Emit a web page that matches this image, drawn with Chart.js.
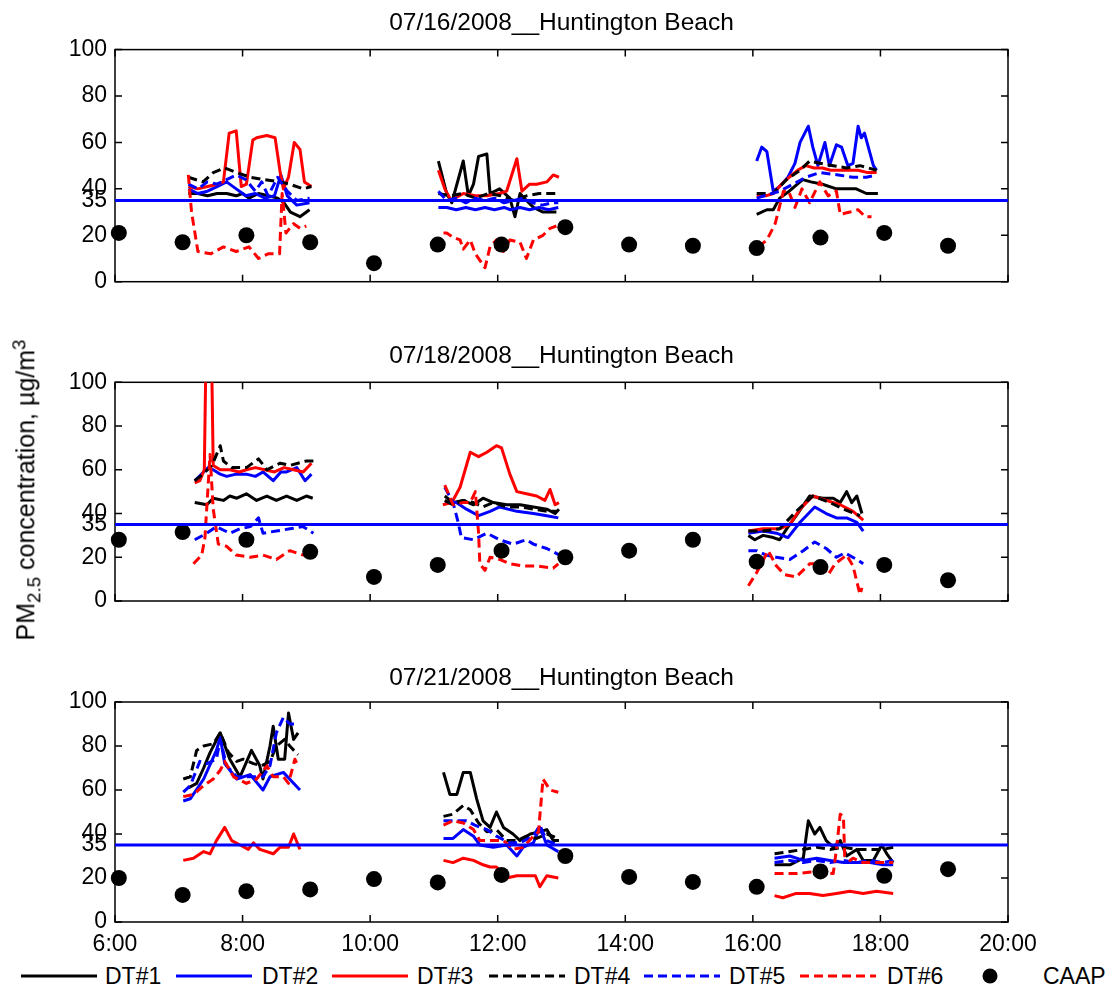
<!DOCTYPE html>
<html lang="en">
<head>
<meta charset="UTF-8">
<title>PM2.5 concentration - Huntington Beach</title>
<script src="https://cdn.jsdelivr.net/npm/chart.js"></script>
<style>
  body { margin: 0; background: #fff; }
  #wrap { position: relative; width: 1112px; height: 994px; font-family: "Liberation Sans", Arial, sans-serif; color: #000; overflow: hidden; }
  #wrap canvas { position: absolute; left: 0; }
  #ylabel { position: absolute; left: 27px; top: 490px; transform: translate(-50%, -50%) rotate(-90deg); white-space: nowrap; font-size: 25px; }
  #ylabel sub, #ylabel sup { font-size: 0.75em; }
  .leg { position: absolute; font-size: 23px; line-height: 28px; white-space: nowrap; }
  .legline { position: absolute; }
</style>
</head>
<body>
<div id="wrap">
  <canvas id="c1" width="1112" height="312"></canvas>
  <canvas id="c2" width="1112" height="299"></canvas>
  <canvas id="c3" width="1112" height="308"></canvas>
  <div id="ylabel">PM<sub>2.5</sub> concentration, &micro;g/m<sup>3</sup></div>
  <div id="legend"></div>
</div>
<script>
// axis ticks (hours of day and concentration)
const xTicks = [6, 8, 10, 12, 14, 16, 18, 20];
const yTicks = [0, 20, 35, 40, 60, 80, 100];
const standardLevel = 35;

const seriesNames = ['DT#1', 'DT#2', 'DT#3', 'DT#4', 'DT#5', 'DT#6'];
const caapName = 'CAAP';
const caapHours = [6.06, 7.06, 8.06, 9.06, 10.06, 11.06, 12.06, 13.06, 14.06, 15.06, 16.06, 17.06, 18.06, 19.06];

// 07/16/2008 -- [hour, ug/m3], [x, null] separates the three sampling periods
const jul16_dt1 = [[7.15,38],[7.3,38],[7.45,37],[7.6,38],[7.75,38],[7.9,37],[8.0,38],[8.1,36],[8.25,38],[8.4,37],[8.55,36],[8.65,34],[8.75,30],[8.9,28],[9.05,31],
  [10,null],[11.07,52],[11.2,38],[11.28,34],[11.46,52],[11.54,37],[11.62,42],[11.7,54],[11.83,55],[11.88,38],[12.03,40],[12.19,36],[12.27,28],[12.35,38],[12.45,35],[12.56,32],[12.71,30],[12.92,30],
  [14.5,null],[16.06,29],[16.22,31],[16.32,31],[16.42,36],[16.57,39],[16.78,44],[16.91,43],[17.09,42],[17.31,40],[17.47,40],[17.62,40],[17.78,38],[17.96,38]];
const jul16_dt2 = [[7.15,40],[7.3,38],[7.45,39],[7.6,41],[7.75,43],[7.9,40],[8.05,37],[8.2,38],[8.35,36],[8.5,37],[8.6,46],[8.7,37],[8.85,33],[9.05,34],
  [10,null],[11.07,32],[11.2,32],[11.35,31],[11.5,32],[11.65,31],[11.8,32],[11.95,31],[12.1,32],[12.2,31],[12.35,32],[12.5,31],[12.65,32],[12.8,31],[12.95,32],
  [14.5,null],[16.06,52],[16.14,58],[16.22,56],[16.32,39],[16.42,41],[16.55,45],[16.66,51],[16.74,60],[16.87,67],[16.94,58],[17.02,50],[17.13,60],[17.2,50],[17.31,59],[17.39,58],[17.49,50],[17.57,51],[17.65,67],[17.7,62],[17.75,64],[17.89,50],[17.94,48]];
const jul16_dt3 = [[7.15,41],[7.3,40],[7.45,41],[7.6,42],[7.7,43],[7.79,64],[7.9,65],[7.98,41],[8.06,42],[8.16,61],[8.22,62],[8.38,63],[8.51,62],[8.59,47],[8.64,40],[8.72,45],[8.81,60],[8.9,57],[8.97,43],[9.08,41],
  [10,null],[11.07,48],[11.17,40],[11.27,35],[11.46,38],[11.65,37],[11.83,37],[12.03,38],[12.14,39],[12.3,53],[12.38,39],[12.5,42],[12.61,42],[12.77,43],[12.87,46],[12.96,45],
  [14.5,null],[16.06,37],[16.2,37],[16.32,38],[16.45,42],[16.57,45],[16.7,48],[16.83,50],[16.96,49],[17.09,49],[17.22,48],[17.34,48],[17.5,48],[17.65,48],[17.8,47],[17.94,47]];
const jul16_dt4 = [[7.15,45],[7.38,43],[7.54,47],[7.72,49],[7.91,47],[8.12,45],[8.33,44],[8.59,43],[8.74,42],[8.95,40],[9.08,41],
  [10,null],[11.07,38],[11.25,37],[11.45,38],[11.65,36],[11.85,38],[12.05,37],[12.25,35],[12.45,37],[12.65,38],[12.95,38],
  [14.5,null],[16.06,38],[16.32,38],[16.53,44],[16.74,48],[16.89,52],[17.05,51],[17.26,50],[17.47,49],[17.68,50],[17.94,48]];
const jul16_dt5 = [[7.15,42],[7.3,40],[7.45,43],[7.6,42],[7.75,44],[7.9,46],[8.05,44],[8.2,39],[8.3,43],[8.4,37],[8.55,45],[8.7,39],[8.85,35],[9.05,36],
  [10,null],[11.07,39],[11.2,35],[11.35,36],[11.5,34],[11.65,36],[11.8,35],[11.95,36],[12.1,34],[12.25,35],[12.4,36],[12.55,34],[12.7,33],[12.85,34],[12.95,34],
  [14.5,null],[16.06,36],[16.42,39],[16.63,42],[16.83,45],[17.05,47],[17.34,46],[17.57,45],[17.78,45],[17.94,46]];
const jul16_dt6 = [[7.15,46],[7.2,30],[7.3,13],[7.5,12],[7.7,15],[7.9,13],[8.1,15],[8.25,10],[8.4,12],[8.58,12],[8.62,38],[8.68,21],[8.8,25],[8.9,23],[9.0,24],
  [10,null],[11.15,21],[11.2,21],[11.31,19],[11.41,18],[11.46,14],[11.57,18],[11.65,12],[11.8,6],[11.88,15],[11.98,18],[12.09,13],[12.19,18],[12.35,17],[12.45,10],[12.56,18],[12.71,20],[12.82,23],[12.92,24],
  [14.5,null],[16.09,15],[16.22,18],[16.35,25],[16.48,39],[16.56,39],[16.66,32],[16.77,40],[16.89,34],[17.05,43],[17.18,37],[17.31,39],[17.37,29],[17.52,30],[17.65,31],[17.76,28],[17.86,28]];
const jul16_caap = [21, 17, 20, 17, 8, 16, 16, 23.5, 16, 15.5, 14.5, 19, 21, 15.5];

// 07/18/2008
const jul18_dt1 = [[7.25,45],[7.44,44],[7.54,47],[7.7,46],[7.8,48],[7.91,47],[8.06,49],[8.22,46],[8.38,48],[8.53,46],[8.69,48],[8.85,46],[9.0,48],[9.1,47],
  [10,null],[11.17,48],[11.3,45],[11.46,46],[11.62,44],[11.77,47],[11.93,45],[12.14,44],[12.35,44],[12.56,43],[12.77,42],[12.9,40],[12.96,42],
  [14.5,null],[15.93,30],[16.03,28],[16.16,30],[16.32,29],[16.42,28],[16.53,33],[16.68,39],[16.89,48],[17.1,47],[17.26,47],[17.37,45],[17.47,50],[17.55,45],[17.63,48],[17.71,40]];
const jul18_dt2 = [[7.25,55],[7.46,61],[7.54,60],[7.65,58],[7.75,57],[7.9,58],[8.06,58],[8.2,57],[8.32,59],[8.48,55],[8.6,59],[8.69,59],[8.85,61],[8.98,55],[9.08,58],
  [10,null],[11.17,45],[11.35,45],[11.51,42],[11.7,39],[11.88,41],[12.03,43],[12.3,41],[12.56,40],[12.77,39],[12.95,38],
  [14.5,null],[15.93,31],[16.16,32],[16.37,31],[16.55,29],[16.74,36],[16.97,43],[17.15,40],[17.31,38],[17.47,38],[17.63,36],[17.73,32]];
const jul18_dt3 = [[7.25,54],[7.33,55],[7.4,60],[7.44,140],[7.5,140],[7.54,62],[7.65,60],[7.8,60],[7.95,59],[8.06,60],[8.2,61],[8.35,60],[8.5,59],[8.65,61],[8.8,60],[8.95,59],[9.08,63],
  [10,null],[11.14,44],[11.28,45],[11.41,52],[11.57,68],[11.7,66],[11.83,68],[11.98,71],[12.06,70],[12.19,58],[12.3,50],[12.45,49],[12.61,48],[12.74,46],[12.82,51],[12.9,44],[12.96,45],
  [14.5,null],[15.93,32],[16.16,33],[16.42,33],[16.58,35],[16.74,42],[16.94,48],[17.15,46],[17.37,44],[17.57,41],[17.73,37]];
const jul18_dt4 = [[7.25,55],[7.38,58],[7.52,62],[7.65,71],[7.7,64],[7.83,61],[8.06,61],[8.25,65],[8.38,60],[8.59,63],[8.74,62],[9.0,64],[9.11,64],
  [10,null],[11.17,46],[11.3,44],[11.46,46],[11.62,45],[11.77,43],[11.93,45],[12.14,43],[12.35,43],[12.56,42],[12.77,41],[12.92,41],
  [14.5,null],[15.93,32],[16.16,32],[16.42,33],[16.68,41],[16.94,48],[17.21,45],[17.42,42],[17.68,39]];
const jul18_dt5 = [[7.25,28],[7.44,31],[7.59,34],[7.8,31],[7.96,33],[8.12,34],[8.25,38],[8.32,31],[8.53,32],[8.74,33],[8.95,34],[9.11,31],
  [10,null],[11.17,52],[11.3,45],[11.38,36],[11.43,29],[11.62,28],[11.83,31],[12.03,28],[12.24,26],[12.45,28],[12.56,26],[12.77,24],[12.97,21],
  [14.5,null],[15.93,23],[16.06,23],[16.21,21],[16.37,20],[16.58,19],[16.79,23],[16.97,27],[17.15,24],[17.31,20],[17.44,22],[17.63,19],[17.73,17]];
const jul18_dt6 = [[7.23,17],[7.36,21],[7.41,29],[7.49,67],[7.54,42],[7.62,26],[7.75,25],[7.9,21],[8.12,20],[8.32,21],[8.53,19],[8.74,23],[8.95,21],[9.08,22],
  [10,null],[11.17,53],[11.3,44],[11.46,45],[11.57,45],[11.65,50],[11.7,31],[11.72,17],[11.8,14],[11.88,20],[12.03,19],[12.19,17],[12.4,16],[12.61,16],[12.87,15],[12.95,17],
  [14.5,null],[15.93,7],[16.06,13],[16.24,23],[16.37,16],[16.5,12],[16.68,11],[16.89,17],[17.05,17],[17.18,12],[17.29,17],[17.47,21],[17.57,16],[17.68,3],[17.71,6]];
const jul18_caap = [28, 31.5, 28, 22.5, 11, 16.5, 23, 20, 23, 28, 18, 15.5, 16.5, 9.5];

// 07/21/2008
const jul21_dt1 = [[7.15,61],[7.28,63],[7.39,70],[7.49,77],[7.65,86],[7.8,74],[7.96,66],[8.14,78],[8.27,71],[8.32,65],[8.43,80],[8.48,89],[8.56,74],[8.66,74],[8.72,95],[8.8,83],[8.87,86],
  [10,null],[11.15,68],[11.25,58],[11.36,58],[11.46,68],[11.57,68],[11.67,56],[11.77,46],[11.88,43],[11.98,50],[12.09,43],[12.24,40],[12.35,37],[12.51,40],[12.66,41],[12.77,42],[12.87,37],[12.96,37],
  [14.5,null],[16.34,26],[16.58,26],[16.79,29],[16.87,46],[16.97,40],[17.05,43],[17.15,37],[17.26,34],[17.37,37],[17.47,30],[17.63,33],[17.73,28],[17.89,28],[18.02,35],[18.1,31],[18.2,27]];
const jul21_dt2 = [[7.07,55],[7.18,56],[7.39,65],[7.59,78],[7.65,84],[7.72,72],[7.91,65],[8.12,67],[8.32,60],[8.43,66],[8.64,68],[8.77,64],[8.9,60],
  [10,null],[11.15,38],[11.3,38],[11.46,42],[11.62,39],[11.72,35],[11.93,34],[12.14,35],[12.3,30],[12.4,34],[12.56,36],[12.66,43],[12.77,35],[12.95,32],
  [14.5,null],[16.34,29],[16.58,30],[16.79,28],[17.0,29],[17.21,28],[17.42,27],[17.63,27],[17.84,27],[18.04,26],[18.2,26]];
const jul21_dt3 = [[7.07,28],[7.23,29],[7.39,32],[7.49,31],[7.59,37],[7.72,43],[7.83,37],[7.96,35],[8.09,33],[8.17,36],[8.27,33],[8.48,31],[8.59,34],[8.72,34],[8.8,40],[8.9,33],
  [10,null],[11.15,28],[11.3,27],[11.46,29],[11.62,28],[11.77,26],[11.88,25],[11.98,25],[12.14,20],[12.3,21],[12.45,21],[12.59,21],[12.66,16],[12.77,21],[12.95,20],
  [14.5,null],[16.34,12],[16.47,11],[16.68,13],[16.89,13],[17.1,12],[17.31,13],[17.52,14],[17.73,13],[17.94,14],[18.2,13]];
const jul21_dt4 = [[7.07,65],[7.18,66],[7.28,78],[7.39,80],[7.54,81],[7.65,86],[7.78,77],[7.91,73],[8.01,74],[8.17,72],[8.3,71],[8.43,73],[8.53,80],[8.66,83],[8.74,80],[8.87,76],
  [10,null],[11.15,48],[11.3,49],[11.46,53],[11.57,51],[11.7,45],[11.83,41],[11.98,42],[12.14,37],[12.3,37],[12.45,39],[12.61,38],[12.77,40],[12.95,38],
  [14.5,null],[16.34,31],[16.58,32],[16.79,33],[17.0,34],[17.21,33],[17.42,34],[17.63,33],[17.84,33],[18.04,33],[18.2,34]];
const jul21_dt5 = [[7.07,59],[7.18,62],[7.33,73],[7.44,72],[7.59,74],[7.65,83],[7.75,71],[7.91,66],[8.12,66],[8.32,66],[8.43,71],[8.53,86],[8.64,93],[8.74,90],[8.87,90],
  [10,null],[11.15,46],[11.36,46],[11.51,46],[11.64,44],[11.83,42],[11.98,39],[12.19,36],[12.35,36],[12.56,39],[12.66,44],[12.77,37],[12.95,35],
  [14.5,null],[16.34,27],[16.58,28],[16.79,27],[17.0,28],[17.21,27],[17.42,28],[17.63,27],[17.84,28],[18.04,27],[18.2,28]];
const jul21_dt6 = [[7.07,57],[7.23,58],[7.39,62],[7.54,65],[7.65,69],[7.72,73],[7.86,66],[8.06,63],[8.22,65],[8.38,71],[8.48,66],[8.64,66],[8.72,63],[8.82,74],[8.87,71],
  [10,null],[11.15,44],[11.3,46],[11.46,45],[11.62,42],[11.72,37],[11.88,37],[12.09,37],[12.24,33],[12.4,34],[12.56,39],[12.64,41],[12.71,65],[12.82,60],[12.95,59],
  [14.5,null],[16.34,22],[16.68,22],[17.0,23],[17.26,22],[17.31,33],[17.37,49],[17.42,48],[17.44,30],[17.52,28],[17.57,29],[17.73,27],[17.94,27],[18.2,27]];
const jul21_caap = [20, 12.3, 14, 14.8, 19.5, 18, 21.4, 30, 20.5, 18.2, 16, 23, 21, 24];

const days = [
  { title: '07/16/2008__Huntington Beach', series: [jul16_dt1, jul16_dt2, jul16_dt3, jul16_dt4, jul16_dt5, jul16_dt6], caap: jul16_caap },
  { title: '07/18/2008__Huntington Beach', series: [jul18_dt1, jul18_dt2, jul18_dt3, jul18_dt4, jul18_dt5, jul18_dt6], caap: jul18_caap },
  { title: '07/21/2008__Huntington Beach', series: [jul21_dt1, jul21_dt2, jul21_dt3, jul21_dt4, jul21_dt5, jul21_dt6], caap: jul21_caap }
];

// line styles for DT#1..DT#6
const seriesColors = ['#000000', '#0000ff', '#ff0000', '#000000', '#0000ff', '#ff0000'];
const seriesDashed = [false, false, false, true, true, true];
const dashPattern = [9, 5];
const fontFamily = '"Liberation Sans", Arial, sans-serif';

// canvas placement of each panel
const panelLayout = [
  { id: 'c1', top: 0,   titleTop: 8.1, titleBottom: 12.1, xAxisH: 30.3, showX: false },
  { id: 'c2', top: 332, titleTop: 9.1, titleBottom: 11.8, xAxisH: 30,   showX: false },
  { id: 'c3', top: 654, titleTop: 9.1, titleBottom: 9.5,  xAxisH: 40,   showX: true }
];

const toPoints = arr => arr.map(([x, y]) => ({ x, y }));

// box with inward tick marks on all four sides, drawn under the data
const framePlugin = {
  id: 'frame',
  beforeDatasetsDraw(chart) {
    const { ctx, chartArea: a, scales: { x, y } } = chart;
    ctx.save();
    ctx.strokeStyle = '#000';
    ctx.lineWidth = 1.5;
    ctx.beginPath();
    xTicks.forEach(v => {
      const px = x.getPixelForValue(v);
      ctx.moveTo(px, a.bottom); ctx.lineTo(px, a.bottom - 7);
      ctx.moveTo(px, a.top); ctx.lineTo(px, a.top + 7);
    });
    yTicks.forEach(v => {
      const py = y.getPixelForValue(v);
      ctx.moveTo(a.left, py); ctx.lineTo(a.left + 7, py);
      ctx.moveTo(a.right, py); ctx.lineTo(a.right - 7, py);
    });
    ctx.stroke();
    ctx.strokeRect(a.left, a.top, a.right - a.left, a.bottom - a.top);
    ctx.restore();
  }
};

function drawPanel(day, p) {
  const canvas = document.getElementById(p.id);
  canvas.style.top = p.top + 'px';

  const datasets = day.series.map((arr, i) => ({
    label: seriesNames[i],
    data: toPoints(arr),
    borderColor: seriesColors[i],
    borderWidth: 3,
    borderDash: seriesDashed[i] ? dashPattern : [],
    borderJoinStyle: 'round',
    pointRadius: 0,
    spanGaps: false,
    order: 20 - i
  }));
  datasets.push({
    label: caapName,
    data: caapHours.map((h, i) => ({ x: h, y: day.caap[i] })),
    showLine: false,
    pointRadius: 8,
    pointBackgroundColor: '#000',
    pointBorderWidth: 0,
    clip: false,
    order: 2
  });
  datasets.push({
    label: '35',
    data: [{ x: xTicks[0], y: standardLevel }, { x: xTicks[xTicks.length - 1], y: standardLevel }],
    borderColor: '#0000ff',
    borderWidth: 3,
    pointRadius: 0,
    order: 1
  });

  new Chart(canvas, {
    type: 'line',
    data: { datasets },
    options: {
      responsive: false,
      animation: false,
      devicePixelRatio: 1,
      events: [],
      layout: { padding: { left: 0, right: 104, top: 0, bottom: 0 } },
      plugins: {
        legend: { display: false },
        tooltip: { enabled: false },
        title: {
          display: true,
          fullSize: false,
          text: day.title,
          color: '#000',
          font: { family: fontFamily, size: 24.5, weight: 'normal' },
          padding: { top: p.titleTop, bottom: p.titleBottom }
        }
      },
      scales: {
        x: {
          type: 'linear',
          min: xTicks[0],
          max: xTicks[xTicks.length - 1],
          afterBuildTicks: s => { s.ticks = xTicks.map(v => ({ value: v })); },
          afterFit: s => { s.height = p.xAxisH; },
          grid: { display: false, drawTicks: false },
          border: { display: false },
          ticks: {
            display: p.showX,
            autoSkip: false,
            maxRotation: 0,
            padding: 9,
            color: '#000',
            font: { family: fontFamily, size: 23 },
            callback: v => v + ':00'
          }
        },
        y: {
          min: 0,
          max: 100,
          afterBuildTicks: s => { s.ticks = yTicks.map(v => ({ value: v })); },
          afterFit: s => { s.width = 115; },
          grid: { display: false, drawTicks: false },
          border: { display: false },
          ticks: {
            autoSkip: false,
            padding: 8,
            color: '#000',
            font: { family: fontFamily, size: 23 }
          }
        }
      }
    },
    plugins: [framePlugin]
  });
}

days.forEach((d, i) => drawPanel(d, panelLayout[i]));

// legend row along the bottom
const legendY = 976;
const legendLineX = [21, 176, 332, 489, 644, 800];
const legendTextX = [105, 262, 417, 574, 729, 887];
const legend = document.getElementById('legend');
seriesNames.forEach((name, i) => {
  const svg = document.createElementNS('http://www.w3.org/2000/svg', 'svg');
  svg.setAttribute('class', 'legline');
  svg.setAttribute('width', 76);
  svg.setAttribute('height', 6);
  svg.style.left = legendLineX[i] + 'px';
  svg.style.top = (legendY - 3) + 'px';
  const ln = document.createElementNS('http://www.w3.org/2000/svg', 'line');
  ln.setAttribute('x1', 0); ln.setAttribute('x2', 76);
  ln.setAttribute('y1', 3); ln.setAttribute('y2', 3);
  ln.setAttribute('stroke', seriesColors[i]);
  ln.setAttribute('stroke-width', 3);
  if (seriesDashed[i]) ln.setAttribute('stroke-dasharray', dashPattern.join(' '));
  svg.appendChild(ln);
  legend.appendChild(svg);

  const t = document.createElement('div');
  t.className = 'leg';
  t.textContent = name;
  t.style.left = legendTextX[i] + 'px';
  t.style.top = (legendY - 14) + 'px';
  legend.appendChild(t);
});
const dot = document.createElementNS('http://www.w3.org/2000/svg', 'svg');
dot.setAttribute('class', 'legline');
dot.setAttribute('width', 16); dot.setAttribute('height', 16);
dot.style.left = '982px'; dot.style.top = (legendY - 8) + 'px';
const circ = document.createElementNS('http://www.w3.org/2000/svg', 'circle');
circ.setAttribute('cx', 8); circ.setAttribute('cy', 8); circ.setAttribute('r', 7.5);
circ.setAttribute('fill', '#000');
dot.appendChild(circ);
legend.appendChild(dot);
const ct = document.createElement('div');
ct.className = 'leg';
ct.textContent = caapName;
ct.style.left = '1043px';
ct.style.top = (legendY - 14) + 'px';
legend.appendChild(ct);
</script>
</body>
</html>
